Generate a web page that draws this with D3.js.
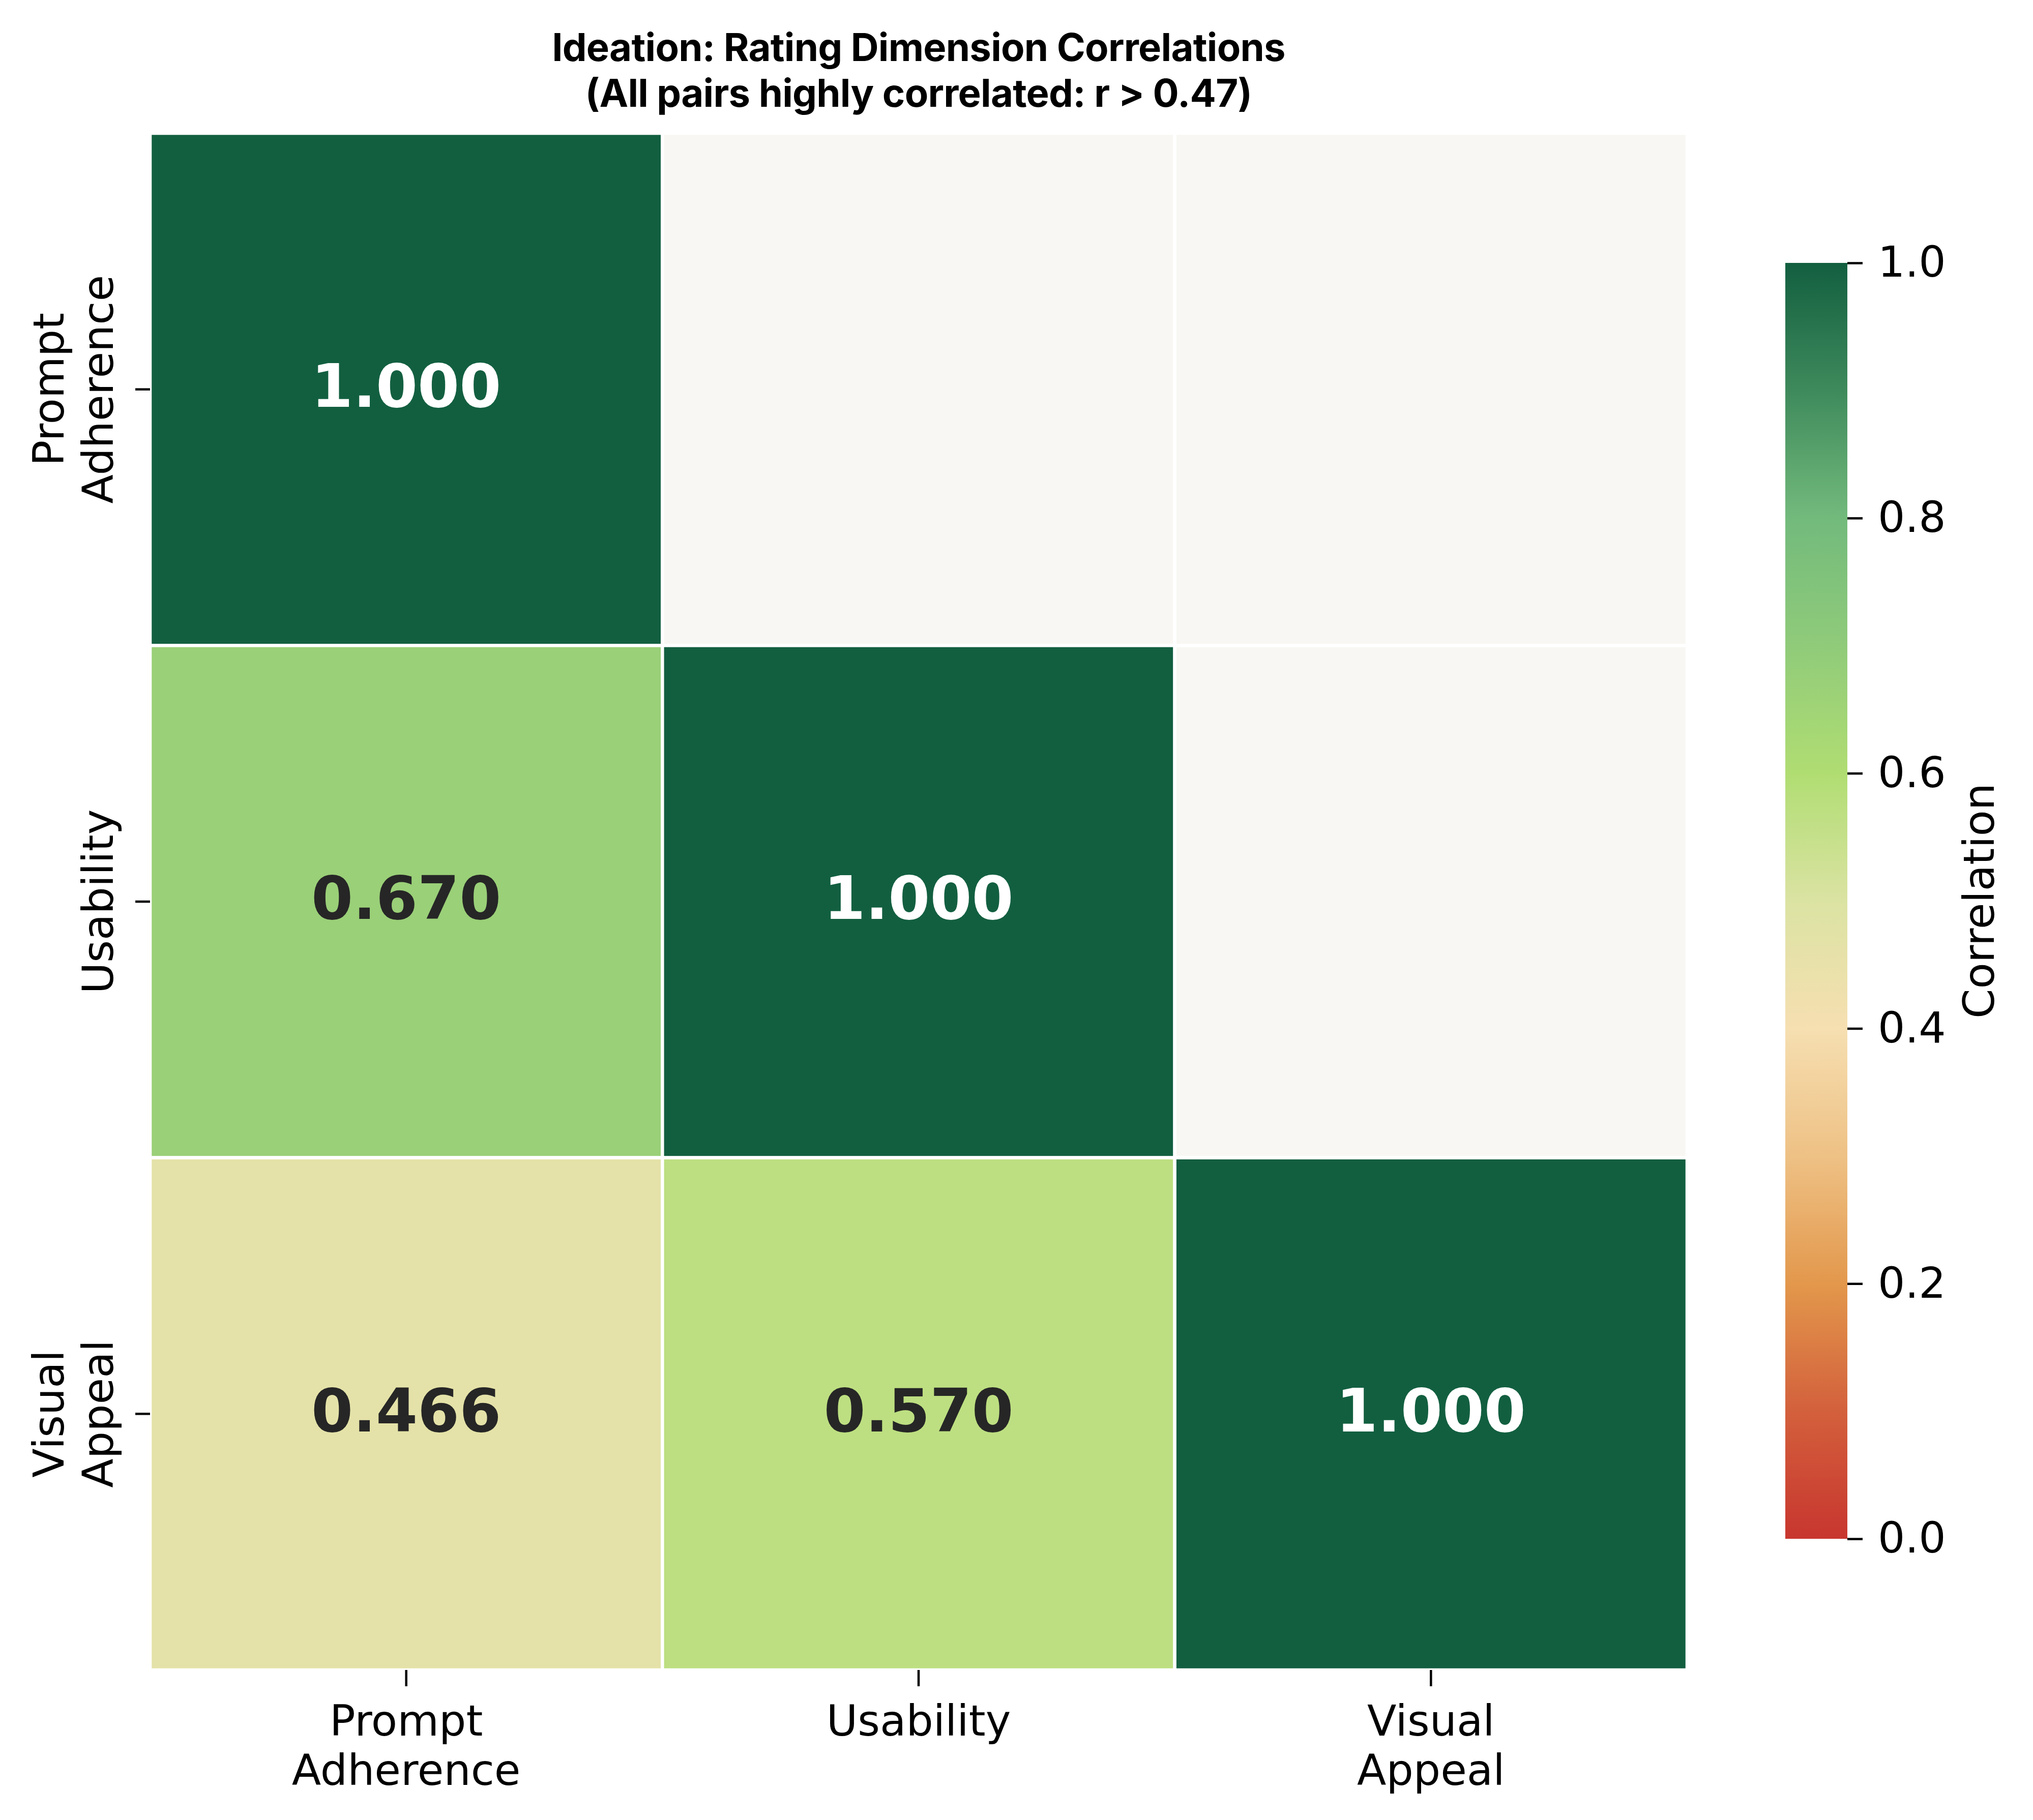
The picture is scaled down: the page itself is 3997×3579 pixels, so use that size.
<!DOCTYPE html>
<html>
<head>
<meta charset="utf-8">
<script src="https://cdn.jsdelivr.net/npm/d3@7"></script>
<style>
  body { margin: 0; background: #fff; }
  svg { display: block; }
</style>
</head>
<body>
<svg id="chart" width="3997" height="3579"></svg>
<script>
// --- Data ---
const dims = ["Prompt Adherence", "Usability", "Visual Appeal"];
const dimLabels = [["Prompt", "Adherence"], ["Usability"], ["Visual", "Appeal"]];
// lower triangle of the correlation matrix (null = masked)
const corr = [
  [1.000, null, null],
  [0.670, 1.000, null],
  [0.466, 0.570, 1.000]
];
const cbarTicks = [0, 0.2, 0.4, 0.6, 0.8, 1.0];
const titleLines = ["Ideation: Rating Dimension Correlations", "(All pairs highly correlated: r > 0.47)"];

// colormap stops
const cmapPos = [0, 0.1, 0.2, 0.3, 0.4, 0.5, 0.6, 0.7, 0.8, 0.9, 1.0];
const cmapCol = ["#c8362f", "#d3603c", "#e3984c", "#eec185", "#f6dfb1", "#dbe3a3",
                 "#b0dd72", "#90cb7a", "#72ba7c", "#3f8a5c", "#125f40"];

// --- Set up ---
const svg = d3.select("#chart");
const box = { left: 295, right: 3317, top: 262, bottom: 3284 };
const cbar = { left: 3510, right: 3632, top: 517, bottom: 3026 };
const tickFont = "'DejaVu Sans', sans-serif";

const color = d3.scaleLinear().domain(cmapPos).range(cmapCol).clamp(true);
const x = d3.scaleBand().domain(dims).range([box.left, box.right]);
const y = d3.scaleBand().domain(dims).range([box.top, box.bottom]);

// --- Cells ---
const cells = [];
corr.forEach((row, i) => row.forEach((v, j) => cells.push({ row: dims[i], col: dims[j], v })));

svg.append("clipPath").attr("id", "axclip")
  .append("rect")
  .attr("x", box.left).attr("y", box.top)
  .attr("width", box.right - box.left).attr("height", box.bottom - box.top);

const cellG = svg.append("g").attr("clip-path", "url(#axclip)");
cellG.selectAll("rect")
  .data(cells)
  .join("rect")
  .attr("x", d => x(d.col))
  .attr("y", d => y(d.row))
  .attr("width", x.bandwidth())
  .attr("height", y.bandwidth())
  .attr("fill", d => d.v === null ? "#f8f7f3" : color(d.v))
  .attr("stroke", "#fff")
  .attr("stroke-width", 6.5);

const annFont = 118;
svg.selectAll(".ann")
  .data(cells.filter(d => d.v !== null))
  .join("text")
  .attr("class", "ann")
  .attr("x", d => x(d.col) + x.bandwidth() / 2)
  .attr("y", d => y(d.row) + y.bandwidth() / 2 + annFont * 0.29)
  .attr("text-anchor", "middle")
  .attr("font-family", tickFont)
  .attr("font-weight", "bold")
  .attr("font-size", annFont)
  .attr("fill", d => d.v > 0.85 ? "#ffffff" : "#262626")
  .text(d => d.v.toFixed(3));

// --- Axes ---
const tickSize = 84;
const lineH = 97;

const xAxis = svg.append("g")
  .attr("transform", `translate(0,${box.bottom})`)
  .call(d3.axisBottom(x).tickSize(32).tickSizeOuter(0));
const yAxis = svg.append("g")
  .attr("transform", `translate(${box.left},0)`)
  .call(d3.axisLeft(y).tickSize(29).tickSizeOuter(0));

[xAxis, yAxis].forEach(a => {
  a.select(".domain").remove();
  a.selectAll(".tick line").attr("stroke", "#000").attr("stroke-width", 4.5);
  a.selectAll(".tick text").remove();
});

xAxis.selectAll(".tick").each(function(d, i) {
  const t = d3.select(this).append("text")
    .attr("text-anchor", "middle")
    .attr("font-family", tickFont)
    .attr("font-size", tickSize)
    .attr("fill", "#000");
  dimLabels[i].forEach((s, k) => t.append("tspan").attr("x", 0).attr("y", 129 + k * lineH).text(s));
});

yAxis.selectAll(".tick").each(function(d, i) {
  const lines = dimLabels[i];
  const t = d3.select(this).append("text")
    .attr("transform", "rotate(-90)")
    .attr("text-anchor", "middle")
    .attr("font-family", tickFont)
    .attr("font-size", tickSize)
    .attr("fill", "#000");
  lines.forEach((s, k) => t.append("tspan")
    .attr("x", 0)
    .attr("y", -73 - (lines.length - 1 - k) * lineH)
    .text(s));
});

// --- Colorbar ---
const cy = d3.scaleLinear().domain([0, 1]).range([cbar.bottom, cbar.top]);
const grad = svg.append("defs").append("linearGradient")
  .attr("id", "cgrad")
  .attr("x1", 0).attr("y1", 1).attr("x2", 0).attr("y2", 0);
grad.selectAll("stop")
  .data(d3.range(0, 1.0001, 0.01))
  .join("stop")
  .attr("offset", d => d)
  .attr("stop-color", d => color(d));

svg.append("rect")
  .attr("x", cbar.left)
  .attr("y", cbar.top)
  .attr("width", cbar.right - cbar.left)
  .attr("height", cbar.bottom - cbar.top)
  .attr("fill", "url(#cgrad)");

const cAxis = svg.append("g")
  .attr("transform", `translate(${cbar.right},0)`)
  .call(d3.axisRight(cy).tickValues(cbarTicks).tickFormat(d3.format(".1f")).tickSize(30).tickPadding(30));
cAxis.select(".domain").remove();
cAxis.selectAll(".tick line").attr("stroke", "#000").attr("stroke-width", 4.5);
cAxis.selectAll(".tick text")
  .attr("font-family", tickFont)
  .attr("font-size", tickSize)
  .attr("fill", "#000");

svg.append("text")
  .attr("transform", `translate(3920,${(cbar.top + cbar.bottom) / 2}) rotate(-90)`)
  .attr("text-anchor", "middle")
  .attr("font-family", tickFont)
  .attr("font-size", tickSize)
  .attr("fill", "#000")
  .text("Correlation");

// --- Title ---
svg.selectAll(".title")
  .data(titleLines)
  .join("text")
  .attr("class", "title")
  .attr("x", (box.left + box.right) / 2)
  .attr("y", (d, i) => 120 + i * 90)
  .attr("text-anchor", "middle")
  .attr("font-family", "Inter, sans-serif")
  .attr("font-weight", 700)
  .attr("font-size", 76)
  .attr("letter-spacing", "-0.01em")
  .attr("fill", "#000")
  .text(d => d);
</script>
</body>
</html>
